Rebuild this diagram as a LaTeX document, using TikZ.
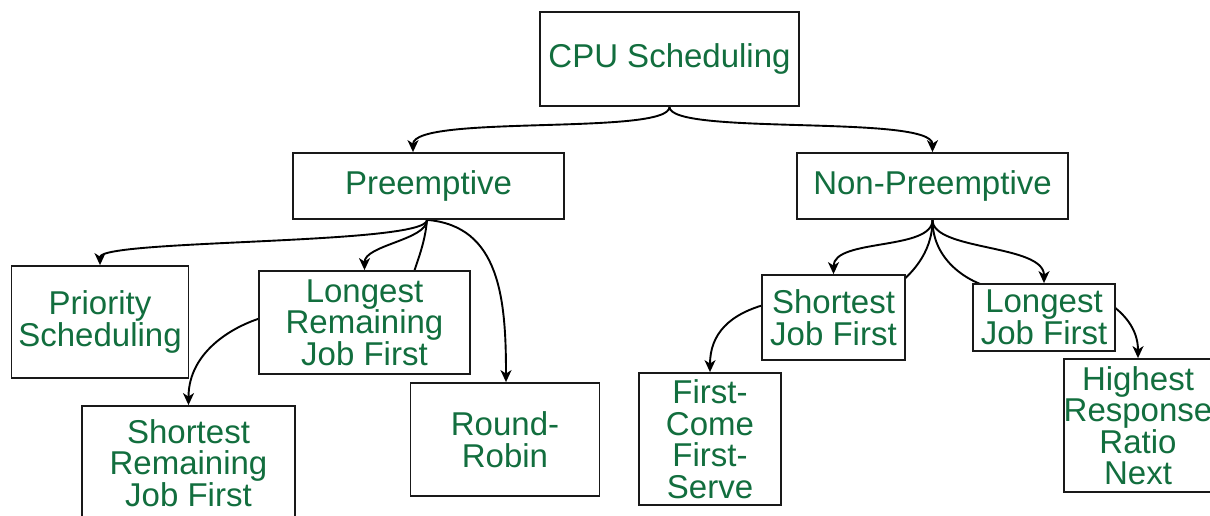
\documentclass[tikz,border=0pt]{standalone}
\usepackage{fontspec}
\setmainfont{Liberation Sans}
\usetikzlibrary{arrows.meta,backgrounds}
\definecolor{txtgreen}{RGB}{18,110,62}
\definecolor{edgegray}{RGB}{25,25,25}
\tikzset{
  box/.style={draw=edgegray, line width=1.8pt, fill=white, inner sep=0pt,
    align=center, text=txtgreen, font=\fontsize{33}{31.5}\selectfont},
  conn/.style={draw=black, line width=1.9pt, -{Stealth[length=12pt,width=11pt,inset=3.5pt]}}
}
\begin{document}
\begin{tikzpicture}[x=1pt,y=-1pt]
\clip (0,0) rectangle (1210,516);

\node[box, minimum width=259pt, minimum height=94pt] (cpu) at (669.5,59) {CPU Scheduling};
\node[box, minimum width=271pt, minimum height=66pt] (pre) at (428.5,186) {Preemptive};
\node[box, minimum width=271pt, minimum height=66pt] (npre) at (932.5,186) {Non-Preemptive};

\node[box, minimum width=177pt, minimum height=112pt] (prio) at (100,322) {Priority\\Scheduling};
\node[box, minimum width=211pt, minimum height=103pt] (lrjf) at (364.5,322.5) {Longest\\Remaining\\Job First};
\node[box, minimum width=213pt, minimum height=114pt] (srjf) at (188.5,463) {Shortest\\Remaining\\Job First};
\node[box, minimum width=189pt, minimum height=113pt] (rr) at (505,439.5) {Round-\\Robin};

\node[box, minimum width=143pt, minimum height=85pt] (sjf) at (833.5,317.5) {Shortest\\Job First};
\node[box, minimum width=142pt, minimum height=67pt] (ljf) at (1044,317.5) {Longest\\Job First};
\node[box, minimum width=142pt, minimum height=132pt] (fcfs) at (710,439) {First-\\Come\\First-\\Serve};
\node[box, minimum width=142pt, minimum height=133pt] (hrrn) at (1138,425.5) {Highest\\Response\\Ratio\\Next};

\begin{pgfonlayer}{background}
\fill[white] (0,0) rectangle (1210,516);
% CPU Scheduling
\path[conn] (cpu.south) .. controls +(0,29) and +(0,-38) .. ([xshift=-15.5pt]pre.north);
\path[conn] (cpu.south) .. controls +(0,29) and +(0,-38) .. (npre.north);

% Preemptive
\path[conn] ([xshift=-1.5pt]pre.south) .. controls +(0,25) and +(0,-26) .. (prio.north);
\path[conn] ([xshift=-1.5pt]pre.south) .. controls +(0,20) and +(0,-25) .. (lrjf.north);
\path[conn] ([xshift=-1.5pt]pre.south) .. controls +(-2,25) and +(4,-15) .. ([xshift=47pt,yshift=-10pt]lrjf.north)
   .. controls +(-6,22) and +(30,-8) .. ([xshift=8pt,yshift=6pt]lrjf.west)
   .. controls +(-30,8) and +(0,-55) .. (srjf.north);
\path[conn] ([xshift=-1.5pt]pre.south) .. controls +(73,6) and +(0,-83) .. ([xshift=1pt]rr.north);

% Non-Preemptive
\path[conn] (npre.south) .. controls +(0,31) and +(0,-36) .. (sjf.north);
\path[conn] (npre.south) .. controls +(0,31) and +(0,-39) .. (ljf.north);
\path[conn] (npre.south) .. controls +(0,35) and +(15,-12) .. ([xshift=-12pt,yshift=-14pt]sjf.north east)
   .. controls +(-30,24) and +(40,-10) .. ([xshift=8pt,yshift=14pt]sjf.west)
   .. controls +(-40,10) and +(0,-38) .. (fcfs.north);
\path[conn] (npre.south) .. controls +(0,40) and +(-30,-6) .. ([xshift=25pt,yshift=-6pt]ljf.north west)
   .. controls +(30,6) and +(-12,-8) .. ([xshift=-8pt,yshift=15pt]ljf.east)
   .. controls +(15,10) and +(0,-30) .. (hrrn.north);
\end{pgfonlayer}
\end{tikzpicture}
\end{document}
